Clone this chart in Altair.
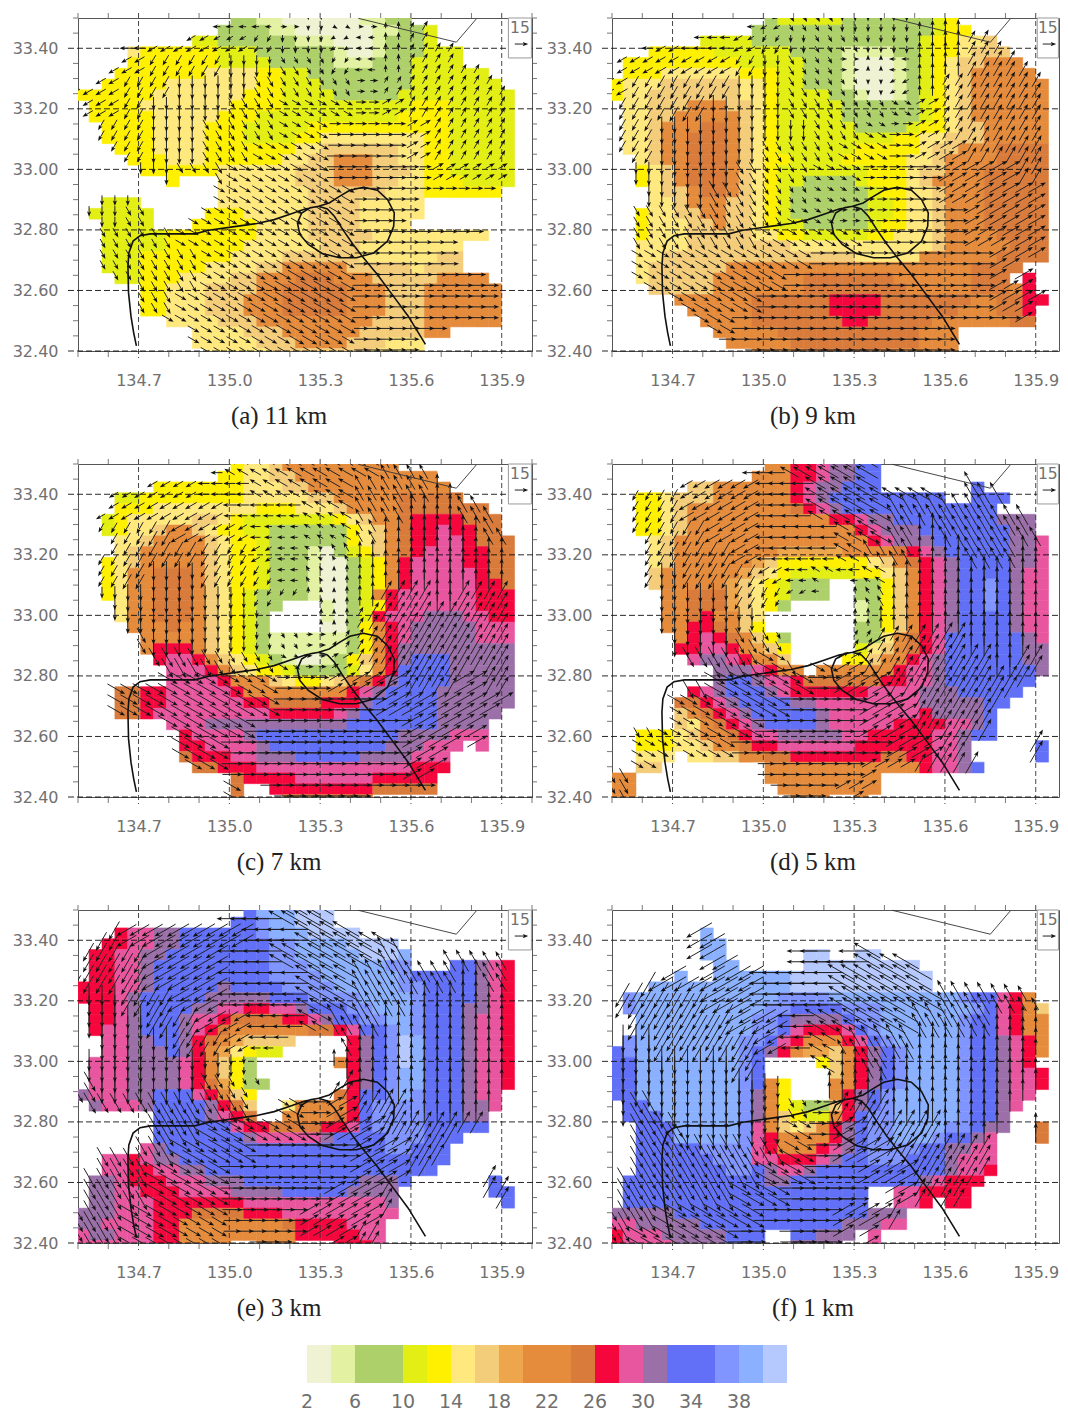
import re
import math
import altair as alt
import pandas as pd

LEVELS = list("abcdefghijklmnopqrst")
COLORS = ["#eff3d3", "#e3f2a2", "#aed06a", "#aed06a", "#e2ee14", "#fff000", "#ffe97f", "#f4cd7a",
          "#eda64c", "#e58b3c", "#e58b3c", "#d97b3b", "#f5073d", "#e8569f", "#9b6fa8", "#6170f6",
          "#6170f6", "#8095ff", "#8ab0ff", "#b6c9ff"]
BAR_EDGES = [2 + 2 * i for i in range(20)]
BAR_LABELS = [2, 6, 10, 14, 18, 22, 26, 30, 34, 38]

MAJOR_LON = [134.7, 135.0, 135.3, 135.6, 135.9]
MINOR_LON = [134.5, 134.6, 134.8, 134.9, 135.1, 135.2, 135.4, 135.5, 135.7, 135.8]
MAJOR_LAT = [32.4, 32.6, 32.8, 33.0, 33.2, 33.4]
MINOR_LAT = [32.45, 32.5, 32.55, 32.65, 32.7, 32.75, 32.85, 32.9, 32.95, 33.05, 33.1, 33.15,
             33.25, 33.3, 33.35, 33.45, 33.5]

TRACK_LON = [134.693, 134.684, 134.675, 134.667, 134.665, 134.668, 134.682, 134.705, 134.739, 134.807,
             134.886, 134.932, 135.011, 135.091, 135.148, 135.205, 135.250, 135.295, 135.330, 135.364,
             135.398, 135.443, 135.489, 135.523, 135.545, 135.543, 135.523, 135.477, 135.420, 135.364,
             135.307, 135.261, 135.233, 135.225, 135.239, 135.267, 135.295, 135.324, 135.347, 135.375,
             135.409, 135.443, 135.489, 135.534, 135.591, 135.648]
TRACK_LAT = [32.417, 32.460, 32.515, 32.592, 32.680, 32.724, 32.763, 32.781, 32.787, 32.787,
             32.787, 32.799, 32.810, 32.821, 32.834, 32.853, 32.869, 32.878, 32.889, 32.911,
             32.931, 32.941, 32.931, 32.900, 32.856, 32.812, 32.763, 32.724, 32.708, 32.708,
             32.722, 32.752, 32.785, 32.823, 32.856, 32.873, 32.878, 32.869, 32.845, 32.801,
             32.752, 32.708, 32.653, 32.592, 32.515, 32.422]
COAST_LON = [135.426, 135.75, 135.816]
COAST_LAT = [33.499, 33.42, 33.497]

SPEED_A = ["12.2c2b6a2b2c", "11.4c2b6a2b2c1e", "9.2e6c3b3a1b3c1e", "4.1g6f3e6c1b2a1b3c3e", "4.7f4e5c3b3c4e",
           "3.7f4g2f2e8c6e", "2.5f7g2f3e7c7e", "6f7g3f4e5c9e", "1.4f7g4f10e3f5e", "1.5f5g3f11e4f5e",
           "2.4f4g3f5e11f5e", "2.4f4g3f4e2f8g2f5e", "3.3f4g7f2g6h2g2f5e", "4.3f3g6f2g2h3j2h2g2f5e",
           "5.6f6g3h3j3h1g2f5e", "7.1f3.6g3h3j2h2g3f4e", "11.7g6h3g6f", "2.3e6.7g4h5g", "1.5e4.3f5g4h5g",
           "2.4e3.5f4g4h4g", "2.5e7f4g5h9g", "2.5e6f6g3h8g", "2.3e7f4g6h6g2h", "2.3e5f4g2h5j5h1g3h",
           "3.2e3f4g2h3j3l3j5h4j", "5.2f3g4h2j5l3j3h6j", "5.2f3g3h3j5l3j3h6j", "5.2f3g3h3j5l3j3h6j",
           "7.4g3h9j4h6j", "9.4g3h6j5h2j", "9.5g3h4j3h3g", "10.5g8h4g"]
SPEED_B = ["12.1c5e7c1e1f", "11.14c1e2f", "7.4e13c1e2f2g1h", "3.5f6e4c4b2c1e2f1g3h", "1.9f5e3c1b3a1b1c1e1f1g2h3j",
           "1.3f6g3f2e3c1b3a1b1c1e1f1g1h5j", "1f3g6h2g1f2e3c1b3a1b1c1e1f1g1h6j", "1f2g7h2g1f4e2c1b2a1b1c1e1f1g1h6j",
           "1.2g3h3j2h1g1f5e6c1e1f1g1h6j", "1.2g2h5j1h1g1f5e6c1e1f1g1h6j", "1.2g1h3j2l1j1h1g1f6e4c1e2f1g2h5j",
           "1.2g1h2j3l1j1h1g1f9e2f2g3h5j", "1.2g1h2j3l1j1h1g1f6e5f1g2h3j4l", "2.1g1h2j3l1j1h1g2f4e5f2g1h4j4l",
           "2.1f1g1h1j3l1j1h1g1f7e3f1g2h3j5l", "2.1f1g1h1j3l1j1h1g1f2e4c1e3f1g1h4j5l", "3.1g2h1j2l1j1h1g1f1e6c1e2f2g1h3j5l",
           "3.2g1h3j2h1g1f1e6c2e1f2g1h3j5l", "2.1f2g2h2j2h1g1f1e6c2e1f2g1h3j5l", "2.1f3g2h1j2h1g1f2e5c1e2f2g1h3j5l",
           "2.1f3g5h2g2f5e2f3g1h4j4l", "2.4g8h11g1h5j3l", "2.2g15h5g6j4l", "2.1g6h19j4l", "2.1g5h7j7l6j3l1.1m",
           "3.5h7j8l5j3l1j1m", "5.6j6l4m7l2j2l2m", "6.5j6l4m6l3j2l1m", "7.4j7l2m5l6j2l", "8.5j11l3j", "9.5j10l3j",
           "11.4j6l6j"]
SPEED_C = ["12.1f2g1h9j", "11.2f2g2h11j", "6.7f3g2h11j", "3.2e8f5g2h5j5l", "3.3f8g3f3g1h4j7l",
           "2.1e1f5g2h1g1f7e1f1g1h2j1l4m3l", "2.1e1f2g1h2j1h1g2f2e6c1f1g1h1j1l2m1n2m2l",
           "3.2g1h4j1h1g2f1e6c1f1g1h1j1l2m2n1m3l", "3.1g1h5j1h1g2f1e3c1b1a1c1e1f1h1j1l1m3n2m2l",
           "2.1f1g1h5j1h1g2f1e3c1b2a1c1e1f1j1m4n2m2l", "2.1f1g2j3l1j1h1g2f1e3c1b2a1c1e1f1j1m5n1m2l",
           "2.1f1g2j3l1j1h1g2f1e3c1b2a1c1e1f1j1m5n2m1l", "2.1f1g2j3l1j1h1g1f1e4c1b2a1c1e1j1m6n3m",
           "3.1g2j3l1j1h1g1f1e2c3.1b1a1c1e1f1m6n3m", "3.1g2j3l1j1h1g1f1e1c4.1b1a1c1e1m3n3o2n2m",
           "4.3j1l2j1h1g1f1e1c4.2a1c1f1j1m1n5o3n", "5.5j1h1g1f1e1c6b1c1f1j1m1n5o3n", "5.1j3m1j1h1g1f1e1c6b1c1f1j1m9o",
           "6.1m2n1m1j1h1g1f1e1c1b2a1b1c1f1h1j1m1o3p5o", "7.3n1m1j1h1g2f1e4c1e1g1j1m4p5o",
           "7.4n1m3j1h1g2f1g1h1j1l1m1o4p5o", "3.2l2m5n1m8j1m1n1o4p6o", "3.2l2m6n2m4l3m1o5p6o", "3.2l1m9n5m1n1o6p5o",
           "7.3n11o7p4o", "8.1m4n1o11p4o3n", "8.2m4n1o9p3o3n1.1n", "8.1l3m2n3o5p4o3n", "9.2l3m12n3m", "12.1l4m6n5m",
           "12.1l2.8m5l", "12.1l3.7l"]
SPEED_D = ["12.2j2m1n2o2p", "11.3j2m1n2o2p", "6.2h6j1m1n2o3p7.1p", "2.2f1g3h6j1m1n1o9p2.3p", "2.2f1g1h8j1l1m1n1o12p",
           "2.2f1g1h11j2m1n2o8p3o", "2.2f1g1h13j1m1n3o7p2o", "3.1g1h15j1m1n3o6p2o1n",
           "3.1g1h8j5i4j1l1m1n1o5p2o1n", "3.1g1h6j1i1h7f1g1h1j1l1m1n1o4p2o1n", "3.1h6j1i1h1g1f5e2f1g1h1j1m1n1o4p1o2n",
           "3.1h5j1i1h1g1f1e3c2.2c1f1h1j1m1n1o2p1r1p1o2n", "4.2j3l1i1h1g1f1e3c2.2c1f1h1j1m1n1o2p1r1p1o2n",
           "4.2j3l1i1h1g1f1c5.1b1c1f1h1j1m1n1o2p1r1p1o2n", "4.2j1l1m2j1h1g7.1b1c1f1h1j1m1n1o4p1o2n",
           "4.2j2m1l1j1h1f7.2c1f1h1j1m1n1o4p1o2n", "5.1j1m1n1m1l1j1h1f1c5.2c1g1j1l1m1n6p1o1n",
           "5.2m2n1m1j1i1h1f5.1e1g1h1j1l1m1n6p2o", "6.1n2o1n1m2j1h4.2f1h2j1m1n1o6p2o", "8.3o1n1m2j1.6j1m2n1o7p1o",
           "8.1o2p1o2n1m6l2m2n1o7p", "6.1m1n1o3p1o1n6m4n3o5p", "5.2l1m1n1o4p2o8n5o2p", "5.1h1j1l1m1n1o5p1o7n1m4o1p",
           "5.1h1g1j1l1m1n1o4p1o5n4m2n1o1p", "2.3f1g1h2j1l1m2n5o2n5m2n1o2p", "2.3f2g1h2j1l2m6n6m2n1o5.1p",
           "2.3g1.2g2h2j2l7m2l2m2n1o5.1p", "2.2h8.12j1m2n1o1p", "2j10.9j", "2j11.8j", "2j12.3j2.1j"]
SPEED_E = ["13.1p3s3t", "12.2p1r2s3t", "3.1m2n2o6p1r3s4t", "2.2m2n2o7p2r4s4t", "1.2m2n2o8p2r5s3t1s",
           "1.2m2n1o9p3r6s2r3.2p1o1n1m", "1.2m2n1o9p4r6s1r5p1o1n1m", "3m2n1o5p1o4p4r5s2r4p1o1n1m",
           "3m1n1o5p5o3p4r4s1r4p1o1n1m", "1.2m1n1o4p2o2n2m2n1o3p2r3s1r3p2o1n1m", "1.2m1n1o3p1o2n1m4l2m1n1o2p2r2s1r3p1o2n1m",
           "1.1m2n1o3p1o1n1m1l6j2l1m1n2p1r1s1r3p1o2n1m", "2.2n2o2p1o1m1l1j1i4h4.1m1o1p1r1t1s3p1o2n1m",
           "2.2n3o1p1o1m1j1i1g1f2e5.1m1o1p1r1t1s3p1o2n1m", "1.3n4o1n1m1j1h1f1c6.1j1m1o1p1r1t1s3p1o2n1m",
           "1.3n4o1n1m1j1h1f1c7.1m1o1p1r2s3p1o2n1m", "1.3n4o1n1m1l1i1f2c6.1m1o1p1r2s3p1o2n1m",
           "1o3n2o3p1n1m1j1h1f6.1l1m2p1r1s1r3p1o2n", "1.1o3n1o4p1o1m1l1h2.1g4j1m1p4r3p2o1n",
           "6.4p1o1n1m1l2.4j1l1m1p4r3p2o", "6.6p1n2m4l2m1n1p4r5p", "6.7p1o5n1o4p3r3p", "5.1n1o17p2r3p", "2.2n1m1n2o21p",
           "2.2n2m2n2o18p", "1.2o1n3m3n3o9p3o1p6.1p", "1.2o2n3m4n4o5p4o7.2p", "1.2o3n7m11n1o8.1p", "3o3n3m4l3m9n",
           "2o4n2m8j1l4m3n", "1n2o3n2m9j5m2n", "6n2m4j2.3j3.3m1n"]
SPEED_F = ["", "", "7.1s", "7.2s", "7.2s6.2t2.2t", "8.2s5.9t", "5.1s2.6s11t", "3.11s11t",
           "1.1r11s4r10s1r2p1n1m1j", "1.1r10s2r4p3r7s1r1p1n1m1j1h", "2.9s2r1p4o1p2r6s1r2p1n1m2j",
           "2.9s2r1p1n3m1n1p1r6s1r2p1n1m2j", "1.1r8s2r1p1n1m3j1m1n1p1r5s1r2p1o1n1m1j",
           "1p1r8s1r1p1o1m1j2i1h1j1m1o1p1r4s1r2p1o1n1m1j", "2p8s1r1p4.1f1h1j1m1o1p1r4s1r2p1o1n1m",
           "2p8s1r1p5.1h1j1m1o1p1r4s1r2p1o2n1m", "2p8s1r1p1j1f3.2j1m1o1p1r4s1r2p1o2n1m",
           "2p8s1r1o1j1f3.1j1m1o1p1r5s1r2p1o2n", "1.2p7s1r1o1j1f1e2c1h1m1o1p1r5s1r2p1o1n",
           "1.3p6s1r1o1j1h1f2e1j1m1p2r5s1r2p1o", "2.3p5s1r1n1j1h1g1h1j1m1o1p2r4s2r1p2o2.1l",
           "2.3p5s1r1n1m4j1m1o1p2r3s1r2p1o1n3.1l", "2.5p4r1n1m3j1m1n1o1p4r2p2o2n", "2.6p3r2n3m1n1o2p3r3p1o3n",
           "2.7p2r1p1o2n1o10p1o2n1m", "1.11p2o10p1o1n3m", "1.19p2.2n4m", "1.19p2.2n1m1.2m", "5o15p3o", "2n5o11p3o2n",
           "1m3n5o3p2.2p3o1.1n", "1m4n4o3p2.4o2.1n"]

DIR_A = ["99999999364301111", "99988887668901111", "88877766557901111", "88776665555311111", "88766655444321111",
         "87766555443332111", "77766554443332111", "66665544443333222", "66655444444333333", "66554444444333333",
         "65554444444333333", "55555444444333333", "55555444444333333", "55554444444333333", "55544444444333333",
         "44444444444333333"]
DIR_B = ["99999985566600111", "99899876556600111", "88888765530900111", "87777665556801111", "77776665555421111",
         "77666666554321111", "77666655544322111", "66666555443332221", "56665555443332222", "55555554433333222",
         "55555544443333222", "44444444333333322", "44444443333333322", "44444433333333322", "44444333333333332",
         "44433333333333332"]
DIR_C = ["999999aaaaaabbbbb", "8888899aaaabbb0bb", "888888999aabb00bb", "777788899aab0000b", "777777789ab000000",
         "777667779b0000000", "76666667700011011", "66666666600111111", "55566666531111111", "55555555432111111",
         "44444444332221121", "44444444333322222", "44444443333332222", "44444433333332222", "44444433333332222",
         "44444443333333322"]
DIR_D = ["8888899aaaaaabbbb", "77788899aaaaaabbb", "77788899aaabbbbbb", "777788999aab0bbbb", "777778999abb00bb0",
         "77677789a9a000000", "6766677890b000000", "66666666700000000", "55666555711111000", "55555545421111101",
         "55554444322111111", "55444443332211111", "55444433332211111", "44444333333221111", "54443333332211111",
         "54333333322211111"]
DIR_E = ["88888999aaaaabbbb", "778888899aaaabbbb", "77788899aaaabbbbb", "777888999aabbbb0b", "667788999aabb0000",
         "666778899abb00000", "6666778990b000000", "66666667700000000", "56666555501000000", "55555554432110000",
         "55555444432211111", "55554443333221111", "55544433333221111", "55544433332211111", "55444433322211111",
         "55444433322111111"]
DIR_F = ["88888999aaaaabbbb", "8888889999aaabbbb", "7888889999aaaabbb", "778888999aaaaabbb", "777788999aaaabbbb",
         "77777889aaaabbb00", "66777789abbb00000", "66666779a0b000000", "66666667000000000", "65666665311000000",
         "65566664321110000", "55555554322111100", "55555544332211111", "55555443332211111", "55444433322111111",
         "54444333322111111"]

PANELS = [("(a) 11 km", SPEED_A, DIR_A, False), ("(b) 9 km", SPEED_B, DIR_B, True),
          ("(c) 7 km", SPEED_C, DIR_C, False), ("(d) 5 km", SPEED_D, DIR_D, True),
          ("(e) 3 km", SPEED_E, DIR_E, False), ("(f) 1 km", SPEED_F, DIR_F, True)]

W, H = 454, 333
LON0, LON1, LAT0, LAT1 = 134.5, 136.0, 32.4, 33.5
PX_PER_DEG = W / (LON1 - LON0)
RIGHT_W = 447
RIGHT_LON1 = LON0 + RIGHT_W / PX_PER_DEG
CELL_LON, CELL_LAT = 0.0426, 0.0356
EDGE_LON, EDGE_LAT = 134.494, 33.512
PX_PER_MS = 0.68

ys = alt.Scale(domain=[LAT0, LAT1], nice=False, zero=False)
cs = alt.Scale(domain=LEVELS, range=COLORS)
HEAD = "M0,-1L0.65,0.7L0,0.3L-0.65,0.7Z"
GREY = "#707070"
TICK = "#555555"
AX = alt.Axis(values=MAJOR_LON, format=".1f", grid=False, domain=False, ticks=False, title=None,
              labelPadding=21, labelFont="DejaVu Sans", labelFontSize=16, labelColor=GREY)
AY = alt.Axis(values=MAJOR_LAT, format=".2f", grid=False, domain=False, ticks=False, title=None,
              labelPadding=20, labelFont="DejaVu Sans", labelFontSize=16, labelColor=GREY)


def Y(field):
    return alt.Y(field, scale=ys, axis=AY)


def expand(row):
    out = []
    for n, ch in re.findall(r"(\d*)([a-t.])", row):
        out.extend([ch] * (int(n) if n else 1))
    return out


def arrow(lon, lat, clock, speed):
    th = math.radians(clock * 30)
    half = speed * PX_PER_MS / PX_PER_DEG / 2
    return dict(x=lon - half * math.sin(th), y=lat - half * math.cos(th),
                xe=lon + half * math.sin(th), ye=lat + half * math.cos(th), ang=clock * 30)


def panel(title, speed_rows, dir_rows, right_col):
    pw = RIGHT_W if right_col else W
    xs = alt.Scale(domain=[LON0, RIGHT_LON1 if right_col else LON1], nice=False, zero=False)

    def X(field):
        return alt.X(field, scale=xs, axis=AX)

    cells, arrows = [], []
    for r, row in enumerate(speed_rows):
        for c, ch in enumerate(expand(row)):
            if ch == ".":
                continue
            lon = EDGE_LON + c * CELL_LON
            lat = EDGE_LAT - r * CELL_LAT
            cells.append(dict(x=lon, xe=lon + CELL_LON, y=lat, ye=lat - CELL_LAT, level=ch))
            clock = int(dir_rows[min(r // 2, 15)][min(c // 2, 16)], 16)
            spd = 3 + 2 * LEVELS.index(ch)
            arrows.append(arrow(lon, lat - 0.005, clock, spd))
    cdf = pd.DataFrame(cells)
    adf = pd.DataFrame(arrows)
    layers = [
        alt.Chart(cdf).mark_rect(strokeWidth=0.5, clip=True).encode(
            x=X("x:Q"), x2="xe:Q", y=Y("y:Q"), y2="ye:Q",
            color=alt.Color("level:N", scale=cs, legend=None),
            stroke=alt.Stroke("level:N", scale=cs, legend=None),
        )
    ]
    minor_lon = MINOR_LON if right_col else MINOR_LON + [LON1]
    rules = [
        (MAJOR_LON, "x", -5, H + 7, "#333333", [5, 3], 0.9),
        (MAJOR_LAT, "y", -10, pw if right_col else pw + 12, "#111111", [6, 3], 0.9),
        (minor_lon, "x", -5, 0, TICK, [], 0.8),
        (minor_lon, "x", H, H + 6, TICK, [], 0.8),
        (MINOR_LAT, "y", -5, 0, TICK, [], 0.8),
    ]
    if not right_col:
        rules.append((MINOR_LAT, "y", pw, pw + 5, TICK, [], 0.8))
    for vals, ch, a, b, col, dash, sw in rules:
        df = pd.DataFrame({"v": vals})
        if ch == "x":
            enc = dict(x=X("v:Q"), y=alt.value(a), y2=alt.value(b))
        else:
            enc = dict(y=Y("v:Q"), x=alt.value(a), x2=alt.value(b))
        layers.append(alt.Chart(df).mark_rule(color=col, strokeDash=dash, strokeWidth=sw).encode(**enc))
    layers.append(alt.Chart(adf).mark_rule(color="#222222", strokeWidth=1, clip=True).encode(
        x=X("x:Q"), x2="xe:Q", y=Y("y:Q"), y2="ye:Q"))
    layers.append(alt.Chart(adf).mark_point(shape=HEAD, filled=True, color="#111111", opacity=1, size=42,
                                            strokeWidth=0, clip=True).encode(
        x=X("xe:Q"), y=Y("ye:Q"), angle=alt.Angle("ang:Q", scale=None)))
    track = pd.DataFrame({"x": TRACK_LON, "y": TRACK_LAT, "i": range(len(TRACK_LON))})
    layers.append(alt.Chart(track).mark_line(color="#111111", strokeWidth=1.6).encode(
        x=X("x:Q"), y=Y("y:Q"), order="i:Q"))
    coast = pd.DataFrame({"x": COAST_LON, "y": COAST_LAT, "i": range(len(COAST_LON))})
    layers.append(alt.Chart(coast).mark_line(color="#333333", strokeWidth=0.9).encode(
        x=X("x:Q"), y=Y("y:Q"), order="i:Q"))
    box_left = 135.922 if not right_col else 135.905
    box_right = 135.998 if not right_col else 135.975
    box_mid = (box_left + box_right) / 2
    box = pd.DataFrame({"x": [box_left], "xe": [box_right], "y": [33.5], "ye": [33.368]})
    layers.append(alt.Chart(box).mark_rect(fill="white", stroke="#999999", strokeWidth=1).encode(
        x=X("x:Q"), x2="xe:Q", y=Y("y:Q"), y2="ye:Q"))
    ref = pd.DataFrame([arrow(box_mid, 33.414, 3, 15)])
    layers.append(alt.Chart(ref).mark_rule(color="#222222", strokeWidth=1).encode(
        x=X("x:Q"), x2="xe:Q", y=Y("y:Q"), y2="ye:Q"))
    layers.append(alt.Chart(ref).mark_point(shape=HEAD, filled=True, color="#111111", opacity=1, size=42,
                                            strokeWidth=0).encode(
        x=X("xe:Q"), y=Y("ye:Q"), angle=alt.Angle("ang:Q", scale=None)))
    layers.append(alt.Chart(pd.DataFrame({"x": [box_mid], "y": [33.467], "t": ["15"]})).mark_text(
        font="DejaVu Sans", fontSize=15.5, color=GREY).encode(x=X("x:Q"), y=Y("y:Q"), text="t:N"))
    layers.append(alt.Chart(pd.DataFrame({"t": [title]})).mark_text(
        font="Liberation Serif", fontSize=25, color="#222222").encode(
        x=alt.value(201), y=alt.value(398), text="t:N"))
    return alt.layer(*layers).properties(width=pw, height=H)


bar_x = alt.Scale(domain=[-17.083, 20.75], nice=False, zero=False)
bar_df = pd.DataFrame({"x": BAR_EDGES, "xe": [v + 2 for v in BAR_EDGES], "level": LEVELS})
bar = alt.layer(
    alt.Chart(bar_df).mark_rect().encode(
        x=alt.X("x:Q", scale=bar_x, axis=None), x2="xe:Q", y=alt.value(-11), y2=alt.value(27),
        color=alt.Color("level:N", scale=cs, legend=None)),
    alt.Chart(pd.DataFrame({"v": BAR_LABELS})).mark_text(
        font="DejaVu Sans", fontSize=19, color=GREY).encode(
        x=alt.X("v:Q", scale=bar_x, axis=None), y=alt.value(46), text="v:Q"),
).properties(width=W, height=38, view=alt.ViewBackground(stroke="transparent"))

chart = alt.concat(*[panel(*p) for p in PANELS], bar, columns=2, bounds="flush",
                   spacing=alt.RowColnumber(row=113, column=80)
                   ).properties(padding={"left": 3, "top": 4, "right": 0, "bottom": 0}
                                ).configure_view(stroke="#555555")
chart.save("out.html", embed_options={"renderer": "svg", "actions": False})
